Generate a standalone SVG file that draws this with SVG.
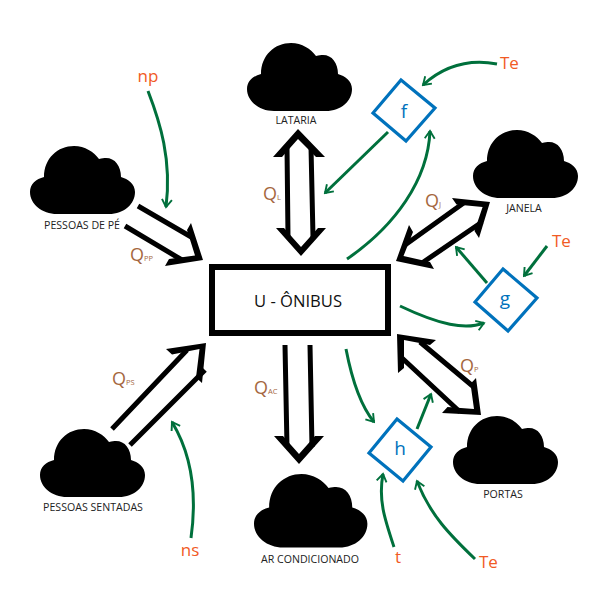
<svg xmlns="http://www.w3.org/2000/svg" width="600" height="600" viewBox="0 0 600 600">
<style>
text{font-family:"Open Sans","Noto Sans","Liberation Sans",sans-serif}
.cap{font-size:10.6px;fill:#222}
.q{font-size:18px;fill:#A5673F}
.s{font-size:7.5px;fill:#A5673F}
.o{font-size:17px;fill:#F15A24}
.b{font-size:19px;fill:#0072BC;text-anchor:middle}
.d{fill:#fff;stroke:#0072BC;stroke-width:3.2}
.k{fill:none;stroke:#000;stroke-width:5}
.h{fill:#000;stroke:none}
.g{fill:none;stroke:#00703C;stroke-width:3}
</style>
<defs>
<path id="cloud" d="M27 68C12 68 0 58 0 46C0 38 6 33 14 31C14 12 28 0 44 0C55 0 64 6 69 13C72 12 74 12 76 12C85 12 91 20 91 31C98 33 105 38 105 46C105 58 94 68 79 68Z"/>
<marker id="ah" viewBox="-10 -6 12 12" markerWidth="12" markerHeight="12" markerUnits="userSpaceOnUse" refX="0" refY="0" orient="auto"><path d="M-7.5 -5 L0 0 L-7.5 5" fill="none" stroke="#00703C" stroke-width="1.9"/></marker>
</defs>
<g id="connectors">
<g id="flow-arrows">
<path class="k" d="M287 147L288 237M311 147L313 237"/>
<path class="h" d="M273 157L298 129L325 157L316 157L298 139L282 157Z"/>
<path class="h" d="M276 228L301 256L326 228L318 228L301 247L284 228Z"/>
<path class="k" d="M138 206L193 238M125 226L182 260"/>
<path class="h" d="M191 223L203 260L165 266L169 259L195 255.5L187 230Z"/>
<path class="k" d="M405 245L465 202M422 263L482 222"/>
<path class="h" d="M409 225L396 261L434 269L430 262L403.5 256L413 232Z"/>
<path class="h" d="M452 198L490 202L479 238L474.5 231L482.6 207L456.5 204.6Z"/>
<path class="k" d="M420 342L475 388M402 358L460 412"/>
<path class="h" d="M398 373L397 334L436 340L430 345L404 340L404 368Z"/>
<path class="h" d="M476 378L481 415L442 413L447.5 407L474 409L470.5 383.7Z"/>
<path class="k" d="M112 429L187 350M130 445L205 370"/>
<path class="h" d="M166 349L206 343L202 383L196 377.5L199.5 349L172 354.5Z"/>
<path class="k" d="M285 345L287 447M310 345L312 447"/>
<path class="h" d="M274 436L299 464L324 436L315 436L299 454L283 436Z"/>
</g>
<g id="signal-arrows">
<path class="g" marker-end="url(#ah)" d="M148 91C160 122 172 160 166 207"/>
<path class="g" marker-end="url(#ah)" d="M388 132L325 193"/>
<path class="g" marker-end="url(#ah)" d="M347 259C395 226 428 180 430 131"/>
<path class="g" marker-end="url(#ah)" d="M497 64C470 59 445 65 423 85"/>
<path class="g" marker-end="url(#ah)" d="M487 283L456 247"/>
<path class="g" marker-end="url(#ah)" d="M547 246L524 276"/>
<path class="g" marker-end="url(#ah)" d="M400 306C440 325 465 330 484 323"/>
<path class="g" marker-end="url(#ah)" d="M346 349C352 380 360 405 374 422"/>
<path class="g" marker-end="url(#ah)" d="M417 429L431 394"/>
<path class="g" marker-end="url(#ah)" d="M394 547C385 520 378 500 383 474"/>
<path class="g" marker-end="url(#ah)" d="M475 559C450 535 430 515 417 481"/>
<path class="g" marker-end="url(#ah)" d="M191 538C197 495 192 455 172 422"/>
</g>
</g>
<g id="onibus"><rect x="212" y="267" width="176" height="66" fill="#fff" stroke="#000" stroke-width="6"/><text x="298" y="307" font-size="16.6" text-anchor="middle" fill="#111">U - ÔNIBUS</text></g>
<g id="lataria"><use href="#cloud" x="247" y="43"/><text class="cap" x="296" y="124" text-anchor="middle">LATARIA</text></g>
<g id="pessoas-pe"><use href="#cloud" x="30" y="146"/><text class="cap" x="82" y="229" text-anchor="middle">PESSOAS DE PÉ</text></g>
<g id="janela"><use href="#cloud" x="473" y="130"/><text class="cap" x="524" y="212" text-anchor="middle">JANELA</text></g>
<g id="portas"><use href="#cloud" x="453" y="416"/><text class="cap" x="503" y="498" text-anchor="middle">PORTAS</text></g>
<g id="pessoas-sentadas"><use href="#cloud" x="40" y="429"/><text class="cap" x="93" y="511" text-anchor="middle">PESSOAS SENTADAS</text></g>
<g id="ar-condicionado"><use href="#cloud" transform="translate(254 474) scale(1.08)"/><text class="cap" x="310" y="563" text-anchor="middle">AR CONDICIONADO</text></g>
<g id="f"><path class="d" d="M401 80L435 108L406 141L373 113Z"/><text class="b" x="404" y="118">f</text></g>
<g id="g"><path class="d" d="M503 269L537 298L508 331L475 302Z"/><text class="b" x="505" y="305">g</text></g>
<g id="h"><path class="d" d="M397 419L431 447L403 481L369 453Z"/><text class="b" x="400" y="455">h</text></g>
<g id="labels">
<text class="o" x="148" y="82" text-anchor="middle">np</text>
<text class="o" x="500" y="69">Te</text>
<text class="o" x="552" y="247">Te</text>
<text class="o" x="398" y="563" text-anchor="middle">t</text>
<text class="o" x="479" y="568">Te</text>
<text class="o" x="190" y="556" text-anchor="middle">ns</text>
<text class="q" x="263" y="200">Q<tspan class="s">L</tspan></text>
<text class="q" x="130" y="261">Q<tspan class="s">PP</tspan></text>
<text class="q" x="425" y="207">Q<tspan class="s">J</tspan></text>
<text class="q" x="460" y="372">Q<tspan class="s">P</tspan></text>
<text class="q" x="112" y="385">Q<tspan class="s">PS</tspan></text>
<text class="q" x="254" y="394">Q<tspan class="s">AC</tspan></text>
</g>
</svg>
